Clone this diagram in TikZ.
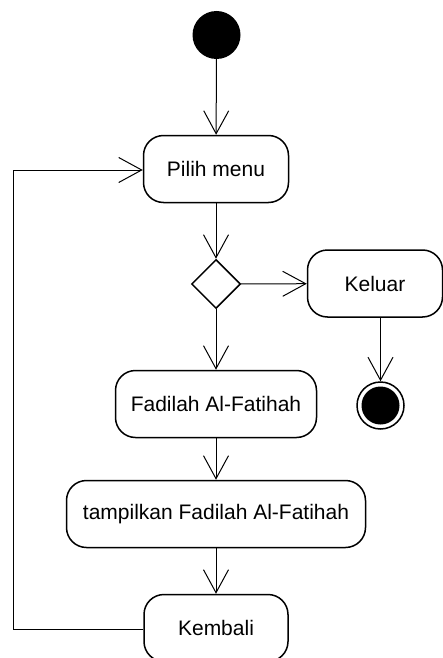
\documentclass[tikz,border=0pt]{standalone}
\usepackage{fontspec}
\setmainfont{Liberation Sans}
\usetikzlibrary{arrows.meta,shapes.geometric}
\begin{document}
\begin{tikzpicture}[x=1pt,y=-1pt,
  act/.style={draw,line width=1.5pt,rounded corners=20pt,minimum height=67pt,inner sep=0pt,font=\fontsize{21}{24}\selectfont},
  flow/.style={line width=1pt,-{Straight Barb[length=23pt,width=25pt,line width=1pt]}},
  startnode/.style={circle,fill=black,minimum size=48pt,inner sep=0pt},
  decision/.style={diamond,draw,line width=1.5pt,minimum size=49pt,inner sep=0pt,aspect=1}]
\useasboundingbox (0,0) rectangle (443,658);
\node[startnode] (s) at (216.5,35) {};
\node[act,minimum width=145pt] (pilih) at (216,169) {Pilih menu};
\node[decision] (d) at (216,284) {};
\node[act,minimum width=135pt] (keluar) at (375,283.5) {Keluar};
\node[circle,draw,line width=1.5pt,minimum size=47pt,inner sep=0pt] (e) at (380.5,405.5) {};
\node[circle,fill=black,minimum size=38pt,inner sep=0pt] (ein) at (380.5,405.5) {};
\node[act,minimum width=201pt] (fad) at (216,404) {Fadilah Al-Fatihah};
\node[act,minimum width=299pt] (tamp) at (216,514) {tampilkan Fadilah Al-Fatihah};
\node[act,minimum width=144pt] (kem) at (216,628) {Kembali};
\coordinate (c1) at (13,629);
\coordinate (c2) at (13,170);
\draw[flow] (s) -- (pilih);
\draw[flow] (pilih) -- (d);
\draw[flow] (d) -- (keluar);
\draw[flow] (keluar.south -| e) -- (e.north);
\draw[flow] (d) -- (fad);
\draw[flow] (fad) -- (tamp);
\draw[flow] (tamp) -- (kem);
\draw[flow] (kem.west |- c1) -- (c1) -- (c2) -- (pilih.west |- c2);
\end{tikzpicture}
\end{document}
